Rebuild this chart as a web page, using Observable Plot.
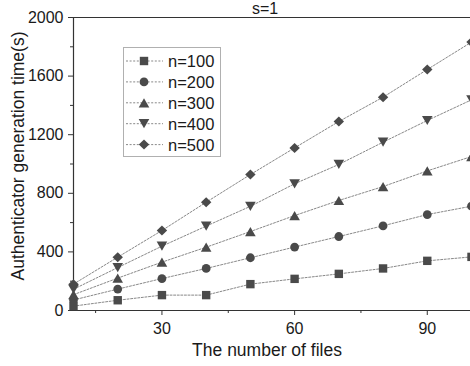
<!DOCTYPE html>
<html>
<head>
<meta charset="utf-8">
<script src="https://cdn.jsdelivr.net/npm/d3@7"></script>
<script src="https://cdn.jsdelivr.net/npm/@observablehq/plot@0.6"></script>
<style>
  body { margin: 0; background: #fff; }
  #wrap { position: relative; width: 470px; height: 366px; overflow: hidden; font-family: "Liberation Sans", Arial, sans-serif; }
  #wrap svg { position: absolute; left: 0; top: 0; }
</style>
</head>
<body>
<div id="wrap"></div>
<script>
const files = [10, 20, 30, 40, 50, 60, 70, 80, 90, 100];
const seriesNames = ["n=100", "n=200", "n=300", "n=400", "n=500"];
const n100 = [30, 70, 105, 105, 180, 216, 250, 287, 339, 366];
const n200 = [72, 146, 218, 287, 360, 433, 505, 578, 655, 712];
const n300 = [108, 221, 330, 432, 539, 648, 751, 846, 953, 1051];
const n400 = [145, 293, 439, 576, 711, 865, 997, 1149, 1297, 1438];
const n500 = [180, 364, 546, 739, 928, 1110, 1290, 1456, 1645, 1832];
const yTicks = [0, 400, 800, 1200, 1600, 2000];
const yMinorTicks = [200, 600, 1000, 1400, 1800];
const xTicks = [30, 60, 90];
const xMinorTicks = [15, 45, 75];
const title = "s=1";
const xLabel = "The number of files";
const yLabel = "Authenticator generation time(s)";

const seriesValues = [n100, n200, n300, n400, n500];
const rows = [];
seriesNames.forEach((name, si) => {
  files.forEach((f, i) => rows.push({series: name, files: f, time: seriesValues[si][i]}));
});

// custom marker shapes
const symSquare = {draw(c) { const h = 4.2; c.rect(-h, -h, 2 * h, 2 * h); }};
const symCircle = {draw(c) { const r = 4.4; c.moveTo(r, 0); c.arc(0, 0, r, 0, 2 * Math.PI); }};
const symTriUp = {draw(c) { const w = 5.3, h = 4.6; c.moveTo(0, -h); c.lineTo(w, h); c.lineTo(-w, h); c.closePath(); }};
const symTriDown = {draw(c) { const w = 5.3, h = 4.6; c.moveTo(0, h); c.lineTo(w, -h); c.lineTo(-w, -h); c.closePath(); }};
const symDiamond = {draw(c) { const w = 5.2, h = 5.0; c.moveTo(0, -h); c.lineTo(w, 0); c.lineTo(0, h); c.lineTo(-w, 0); c.closePath(); }};
const symbols = [symSquare, symCircle, symTriUp, symTriDown, symDiamond];

const markColor = "#4a4a4a";
const lineColor = "#7a7a7a";
const axisColor = "#333";

const chart = Plot.plot({
  width: 470,
  height: 366,
  marginLeft: 73,
  marginTop: 17,
  marginBottom: 56,
  marginRight: 0,
  style: {fontFamily: "'Liberation Sans', Arial, sans-serif", fontSize: "16px", color: "#1a1a1a", background: "transparent"},
  x: {domain: [10, 100], range: [73, 471]},
  y: {domain: [0, 2000]},
  symbol: {domain: seriesNames, range: symbols},
  marks: [
    Plot.ruleY([0], {stroke: axisColor, strokeWidth: 1.2}),
    Plot.ruleY([2000], {stroke: axisColor, strokeWidth: 1.2}),
    Plot.ruleX([10], {stroke: axisColor, strokeWidth: 1.2}),
    Plot.axisY({ticks: yTicks, tickSize: 5, tickPadding: 5, tickFormat: d3.format("d"), label: null, stroke: axisColor, fontSize: 16}),
    Plot.axisY({ticks: yMinorTicks, tickSize: 3, tickFormat: () => "", label: null, stroke: axisColor}),
    Plot.axisX({ticks: xTicks, tickSize: 5, tickPadding: 7, tickFormat: d3.format("d"), label: null, stroke: axisColor, fontSize: 16}),
    Plot.axisX({ticks: xMinorTicks, tickSize: 3, tickFormat: () => "", label: null, stroke: axisColor}),
    Plot.line(rows, {x: "files", y: "time", z: "series", stroke: lineColor, strokeWidth: 0.9, strokeDasharray: "2,1.6"}),
    Plot.dot(rows, {x: "files", y: "time", symbol: "series", fill: markColor, stroke: "none", r: 4}),
    Plot.text([title], {frameAnchor: "top", lineAnchor: "middle", textAnchor: "middle", dx: -7, dy: -9, fontSize: 16, fill: "#1a1a1a"}),
    Plot.text([xLabel], {frameAnchor: "bottom", lineAnchor: "middle", textAnchor: "middle", dx: -5, dy: 40, fontSize: 17.5, fill: "#1a1a1a"}),
    Plot.text([yLabel], {frameAnchor: "left", lineAnchor: "middle", textAnchor: "middle", rotate: -90, dx: -55, dy: -8, fontSize: 17.5, fill: "#1a1a1a"})
  ]
});

const wrap = document.getElementById("wrap");
wrap.appendChild(chart);

// legend overlay
const leg = d3.select(wrap).append("svg").attr("width", 470).attr("height", 366);
leg.append("rect").attr("x", 123.5).attr("y", 47.5).attr("width", 97).attr("height", 109)
  .attr("fill", "#fff").attr("stroke", "#b0b0b0").attr("stroke-width", 1);
seriesNames.forEach((name, i) => {
  const y = 61 + i * 20.9;
  leg.append("line").attr("x1", 126).attr("x2", 163).attr("y1", y).attr("y2", y)
    .attr("stroke", lineColor).attr("stroke-width", 0.9).attr("stroke-dasharray", "2,1.6");
  leg.append("path").attr("d", d3.symbol().type(symbols[i])()).attr("transform", `translate(144,${y})`)
    .attr("fill", markColor);
  leg.append("text").attr("x", 168).attr("y", y).attr("dy", "0.36em")
    .attr("font-family", "'Liberation Sans', Arial, sans-serif").attr("font-size", 16.5).attr("fill", "#1a1a1a")
    .text(name);
});
</script>
</body>
</html>
